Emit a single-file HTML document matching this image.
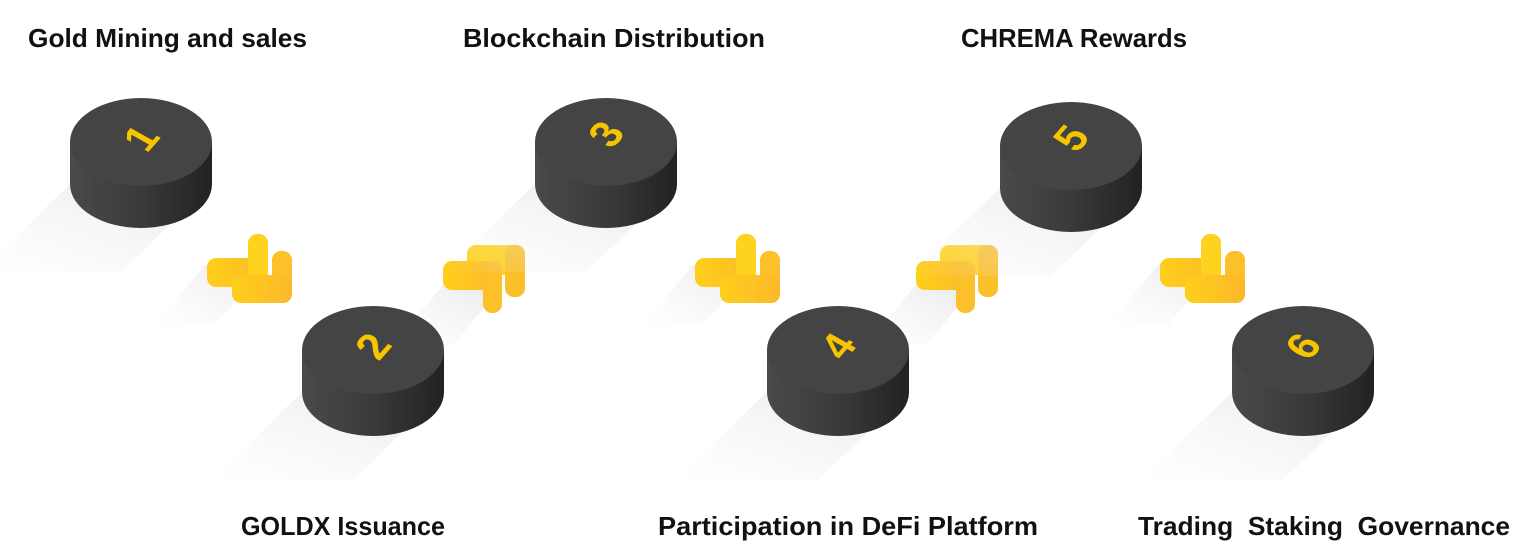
<!DOCTYPE html>
<html><head><meta charset="utf-8"><style>
html,body{margin:0;padding:0;background:#fff;}
svg{display:block}
text.l{font-family:"Liberation Sans",sans-serif;font-weight:bold;font-size:26px;fill:#111;}
text.n{font-family:"Liberation Sans",sans-serif;font-size:46px;fill:#f7c500;font-weight:bold;}
</style></head><body>
<svg width="1520" height="552" viewBox="0 0 1520 552" xmlns="http://www.w3.org/2000/svg">
<defs>
<linearGradient id="side" x1="0" x2="1" y1="0" y2="0">
<stop offset="0" stop-color="#4a4a4a"/><stop offset="0.5" stop-color="#3a3a3a"/><stop offset="1" stop-color="#222"/>
</linearGradient>
<linearGradient id="sh" x1="1" y1="0" x2="0" y2="1">
<stop offset="0" stop-color="#e2e2e2" stop-opacity="0.8"/><stop offset="1" stop-color="#f2f2f2" stop-opacity="0"/>
</linearGradient>
<g id="cyl">
<polygon points="-71,42 71,42 -20,130 -162,130" fill="url(#sh)"/>
<path d="M-71,0 L-71,42 A71,44 0 0 0 71,42 L71,0 Z" fill="url(#side)"/>
<ellipse cx="0" cy="0" rx="71" ry="44" fill="#444"/>
</g>
<linearGradient id="yl" x1="0" x2="1"><stop offset="0" stop-color="#ffcf1a"/><stop offset="1" stop-color="#fbb82a"/></linearGradient>
<g id="ia">
<polygon points="0,40 60,40 10,100 -50,100" fill="url(#sh)"/>
<rect x="2" y="33" width="61" height="29" rx="9" fill="url(#yl)"/>
<rect x="43" y="9" width="20" height="53" rx="9" fill="#ffd21f"/>
<rect x="67" y="26" width="20" height="52" rx="9" fill="#fbc02a"/>
<rect x="27" y="50" width="60" height="28" rx="9" fill="url(#yl)"/>
</g>
<g id="ib">
<polygon points="0,40 60,40 10,100 -50,100" fill="url(#sh)"/>
<rect x="24" y="0" width="58" height="30" rx="9" fill="#ffd21f"/>
<rect x="62" y="0" width="20" height="52" rx="9" fill="#fbbf2a"/>
<rect x="0" y="16" width="59" height="29" rx="9" fill="url(#yl)"/>
<rect x="40" y="16" width="19" height="52" rx="9" fill="#fbc02a"/>
</g>
</defs>
<text class="l" x="28" y="47" textLength="279" lengthAdjust="spacingAndGlyphs">Gold Mining and sales</text>
<text class="l" x="463" y="47" textLength="302" lengthAdjust="spacingAndGlyphs">Blockchain Distribution</text>
<text class="l" x="961" y="47" textLength="226" lengthAdjust="spacingAndGlyphs">CHREMA Rewards</text>
<text class="l" x="241" y="535" textLength="204" lengthAdjust="spacingAndGlyphs">GOLDX Issuance</text>
<text class="l" x="658" y="535" textLength="380" lengthAdjust="spacingAndGlyphs">Participation in DeFi Platform</text>
<text class="l" x="1138" y="535" textLength="372" lengthAdjust="spacingAndGlyphs" xml:space="preserve">Trading  Staking  Governance</text>

<use href="#ia" x="205" y="225"/>
<use href="#ib" x="443" y="245"/>
<use href="#ia" x="693" y="225"/>
<use href="#ib" x="916" y="245"/>
<use href="#ia" x="1158" y="225"/>

<use href="#cyl" x="141" y="142"/>
<use href="#cyl" x="373" y="350"/>
<use href="#cyl" x="606" y="142"/>
<use href="#cyl" x="838" y="350"/>
<use href="#cyl" x="1071" y="146"/>
<use href="#cyl" x="1303" y="350"/>

<g transform="translate(141,138) scale(1,0.8) rotate(-55)"><text class="n" x="0" y="16" text-anchor="middle">1</text></g>
<g transform="translate(373,346) scale(1,0.8) rotate(-55)"><text class="n" x="0" y="16" text-anchor="middle">2</text></g>
<g transform="translate(606,134) scale(1,0.8) rotate(-55)"><text class="n" x="0" y="16" text-anchor="middle">3</text></g>
<g transform="translate(838,346) scale(1,0.8) rotate(-55)"><text class="n" x="0" y="16" text-anchor="middle">4</text></g>
<g transform="translate(1071,138) scale(1,0.8) rotate(-55)"><text class="n" x="0" y="16" text-anchor="middle">5</text></g>
<g transform="translate(1303,346) scale(1,0.8) rotate(-55)"><text class="n" x="0" y="16" text-anchor="middle">6</text></g>
</svg>
</body></html>
